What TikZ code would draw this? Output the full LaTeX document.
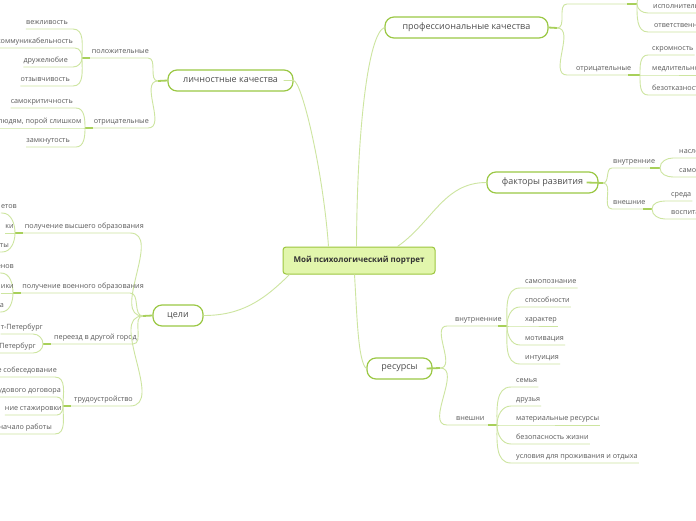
\documentclass[tikz,border=0pt]{standalone}
\usepackage{fontspec}
\setmainfont{Open Sans}
\definecolor{lineC}{HTML}{CDE5A0}
\definecolor{hubC}{HTML}{A8D05A}
\definecolor{bordC}{HTML}{9BC845}
\definecolor{rootF}{HTML}{E2F6AC}
\definecolor{rootB}{HTML}{9CC63E}
\definecolor{txtC}{HTML}{5A5A5A}
\definecolor{topC}{HTML}{4D4D4D}
\tikzset{
  conn/.style={draw=lineC, line width=0.9pt},
  hubseg/.style={draw=hubC, line width=1.8pt},
  lbl/.style={font=\fontsize{7.2}{8}\selectfont, text=txtC, inner sep=0pt},
  topic/.style={draw=bordC, line width=1.2pt, rounded corners=9pt, fill=white,
    minimum height=21pt, inner sep=0pt, font=\fontsize{9}{10}\selectfont, text=topC},
  rootnode/.style={draw=rootB, line width=1pt, rounded corners=3pt, fill=rootF,
    minimum height=27pt, minimum width=152pt, inner sep=0pt,
    font=\fontsize{8}{9}\selectfont\bfseries, text=black!80}
}
% left leaf: name, hub, curve end x, text right x, underline y, in angle, text
\newcommand{\lleaf}[7]{%
  \node[lbl, anchor=base east] (#1) at (#4, #5-4.5) {#7};
  \draw[conn] ([yshift=-4.5pt]#1.base west) -- (#3,#5) to[out=0,in=#6] (#2);
}
% right leaf: name, hub, curve end x, text left x, underline y, out angle, text
\newcommand{\rleaf}[7]{%
  \node[lbl, anchor=base west] (#1) at (#4, #5-4.5) {#7};
  \draw[conn] (#2) to[out=#6,in=180] (#3,#5) -- ([yshift=-4.5pt,xshift=1pt]#1.base east);
}
\begin{document}
\begin{tikzpicture}[x=1pt,y=-1pt]
\useasboundingbox (0,0) rectangle (696,520);
\fill[white] (0,0) rectangle (696,520);
\clip (0,0) rectangle (696,520);

% ---------- main nodes ----------
\node[rootnode] (root) at (359,260.5) {Мой психологический портрет};
\node[topic, minimum width=125pt] (lich) at (230.5,80.5) {личностные качества};
\node[topic, minimum width=163pt] (prof) at (466.5,27.5) {профессиональные качества};
\node[topic, minimum width=111pt] (fak) at (542.5,182.5) {факторы развития};
\node[topic, minimum width=50pt] (celi) at (178,315.5) {цели};
\node[topic, minimum width=65pt] (res) at (399.5,368.5) {ресурсы};

% ---------- root connectors ----------
\draw[conn] ([xshift=-10pt]lich.east) -- (lich.east) .. controls (302,82) and (323,170) .. ([xshift=46pt]root.north west);
\draw[conn] (prof.west) .. controls (368,34) and (357,130) .. ([xshift=74pt]root.north west);
\draw[conn] (fak.west) to[out=180,in=35] ([xshift=115pt]root.north west);
\draw[conn] (celi.east) to[out=0,in=225] ([xshift=7pt]root.south west);
\draw[conn] ([xshift=72pt]root.south west) .. controls (357,315) and (358,362) .. (res.west);

% ---------- личностные качества ----------
\coordinate (lstub) at (158,81);
\draw[hubseg] (lich.west) -- (lstub);
\coordinate (hpos) at (82,58);
\node[lbl, anchor=base east] (pos) at (149,53.5) {положительные};
\draw[conn] (hpos) -- (148,58) to[out=0,in=180] (lstub);
\draw[hubseg] (hpos) -- ++(8,0);
\lleaf{p1}{hpos}{73}{68}{29}{90}{вежливость}
\lleaf{p2}{hpos}{75}{73}{48}{90}{коммуникабельность}
\lleaf{p3}{hpos}{73}{68}{67}{-90}{дружелюбие}
\lleaf{p4}{hpos}{73}{70}{86}{-90}{отзывчивость}

\coordinate (hneg) at (85,128);
\node[lbl, anchor=base east] (neg) at (149,123.5) {отрицательные};
\draw[conn] (hneg) -- (148,128) to[out=0,in=180] (lstub);
\draw[hubseg] (hneg) -- ++(8,0);
\lleaf{n1}{hneg}{76}{73}{108}{90}{самокритичность}
\lleaf{n2}{hneg}{83}{81.5}{128}{180}{людям, порой слишком}
\lleaf{n3}{hneg}{76}{70}{147}{-90}{замкнутость}

% ---------- цели ----------
\coordinate (cstub) at (143,316);
\draw[hubseg] (celi.west) -- (cstub);

\coordinate (hvys) at (15,233);
\node[lbl, anchor=base east] (vys) at (144,228.5) {получение высшего образования};
\draw[conn] (hvys) -- (130,233) to[out=0,in=180] (cstub);
\draw[hubseg] (hvys) -- ++(8,0);
\lleaf{v1}{hvys}{2}{17}{213}{90}{етов}
\lleaf{v2}{hvys}{15}{14}{233}{180}{ки}
\lleaf{v3}{hvys}{2}{9}{252}{-90}{ты}

\coordinate (hvoen) at (13,293);
\node[lbl, anchor=base east] (voen) at (144,288.5) {получение военного образования};
\draw[conn] (hvoen) -- (130,293) to[out=0,in=180] (cstub);
\draw[hubseg] (hvoen) -- ++(8,0);
\lleaf{m1}{hvoen}{1}{14}{273}{90}{енов}
\lleaf{m2}{hvoen}{13}{14}{293}{180}{ики}
\lleaf{m3}{hvoen}{1}{4}{312}{-90}{а}

\coordinate (hpere) at (43,344);
\node[lbl, anchor=base east] (pere) at (137,339.5) {переезд в другой город};
\draw[conn] (hpere) -- (133,344) to[out=0,in=180] (cstub);
\draw[hubseg] (hpere) -- ++(8,0);
\lleaf{g1}{hpere}{33}{43}{334}{90}{т-Петербург}
\lleaf{g2}{hpere}{33}{36}{353}{-90}{Петербург}

\coordinate (htrud) at (63,406);
\node[lbl, anchor=base east] (trud) at (133,401.5) {трудоустройство};
\draw[conn] (htrud) -- (130,406) to[out=0,in=180] (cstub);
\draw[hubseg] (htrud) -- ++(8,0);
\lleaf{t1}{htrud}{55}{57}{377}{90}{е собеседование}
\lleaf{t2}{htrud}{57}{61}{397}{90}{удового договора}
\lleaf{t3}{htrud}{57}{62}{415}{-90}{ние стажировки}
\lleaf{t4}{htrud}{55}{52}{434}{-90}{начало работы}

% ---------- профессиональные качества ----------
\coordinate (pstub) at (557,28);
\draw[hubseg] (prof.east) -- (pstub);
\coordinate (hpp) at (637,4);
\draw[conn] (pstub) to[out=0,in=180] (567,4) -- (hpp);
\draw[hubseg] (hpp) -- ++(-10,0);
\draw[conn] (hpp) to[out=90,in=180] (650,-10);
\rleaf{q1}{hpp}{648}{653}{13}{-90}{исполнительность}
\rleaf{q2}{hpp}{648}{654}{32}{-90}{ответственность}

\coordinate (hpn) at (640,75);
\node[lbl, anchor=base west] (pneg) at (576,70.5) {отрицательные};
\draw[conn] (pstub) to[out=0,in=180] (567,75) -- (hpn);
\draw[hubseg] (hpn) -- ++(-12,0);
\rleaf{r1}{hpn}{648}{652}{55}{90}{скромность}
\rleaf{r2}{hpn}{648}{652}{75}{0}{медлительность}
\rleaf{r3}{hpn}{648}{652}{95}{-90}{безотказность}

% ---------- факторы развития ----------
\coordinate (fstub) at (603,183);
\draw[hubseg] ([xshift=-12pt]fak.east) -- (fstub);
\coordinate (hvn) at (660,168);
\node[lbl, anchor=base west] (vnut) at (613,163.5) {внутренние};
\draw[conn] (fstub) to[out=0,in=180] (612,168) -- (hvn);
\draw[hubseg] (hvn) -- ++(-10,0);
\rleaf{f1}{hvn}{673}{679}{158}{90}{наследственность}
\rleaf{f2}{hvn}{673}{679}{177}{-90}{самовоспитание}

\coordinate (hvs) at (652,209);
\node[lbl, anchor=base west] (vnesh) at (613,204.5) {внешние};
\draw[conn] (fstub) to[out=0,in=180] (612,209) -- (hvs);
\draw[hubseg] (hvs) -- ++(-9,0);
\rleaf{e1}{hvs}{665}{671}{201}{90}{среда}
\rleaf{e2}{hvs}{665}{671}{219}{-90}{воспитание}

% ---------- ресурсы ----------
\coordinate (rstub) at (440,368);
\draw[hubseg] ([xshift=-6pt]res.east) -- (rstub);
\coordinate (hri) at (507,326);
\node[lbl, anchor=base west] (rvn) at (455,321.5) {внутрненние};
\draw[conn] (rstub) to[out=0,in=180] (447,326) -- (hri);
\draw[hubseg] (hri) -- ++(-9,0);
\rleaf{i1}{hri}{520}{525}{288}{90}{самопознание}
\rleaf{i2}{hri}{520}{525}{307}{90}{способности}
\rleaf{i3}{hri}{520}{525}{326}{0}{характер}
\rleaf{i4}{hri}{520}{525}{345}{-90}{мотивация}
\rleaf{i5}{hri}{520}{525}{364}{-90}{интуиция}

\coordinate (hre) at (497,425);
\node[lbl, anchor=base west] (rvs) at (456,420.5) {внешни};
\draw[conn] (rstub) to[out=0,in=180] (447,425) -- (hre);
\draw[hubseg] (hre) -- ++(-9,0);
\rleaf{x1}{hre}{511}{516}{387}{90}{семья}
\rleaf{x2}{hre}{511}{516}{406}{90}{друзья}
\rleaf{x3}{hre}{511}{516}{425}{0}{материальные ресурсы}
\rleaf{x4}{hre}{511}{516}{444}{-90}{безопасность жизни}
\rleaf{x5}{hre}{511}{516}{463}{-90}{условия для проживания и отдыха}
\end{tikzpicture}
\end{document}
